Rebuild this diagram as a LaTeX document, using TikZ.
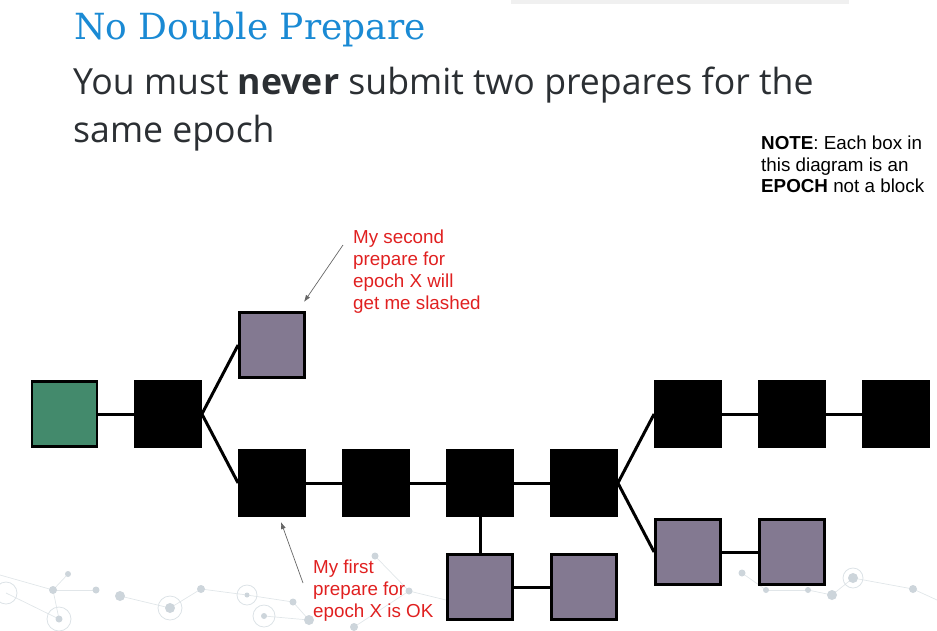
\documentclass[tikz,border=0pt]{standalone}
\usepackage{fontspec}
\setmainfont{Liberation Sans}
\newfontfamily\titlefont{DejaVu Serif}
\newfontfamily\leadfont[FakeStretch=0.99]{Open Sans}
\usetikzlibrary{
  arrows.meta,
  positioning,
  backgrounds
}
\definecolor{genesisgreen}{RGB}{67,138,108}
\definecolor{forkpurple}{RGB}{131,121,145}
\definecolor{titleblue}{RGB}{26,138,212}
\definecolor{leadgray}{RGB}{43,47,51}
\definecolor{warnred}{RGB}{224,32,32}
\definecolor{dotgray}{RGB}{205,213,219}
\tikzset{
  epochbox/.style={
    draw=black,
    fill=black,
    line width=2.8pt,
    minimum size=65pt,
    inner sep=0pt
  },
  rootbox/.style={epochbox,fill=genesisgreen},
  forkbox/.style={epochbox,fill=forkpurple},
  chainlink/.style={line width=3pt,draw=black},
  notearrow/.style={-{Latex[length=7pt,width=5pt]},line width=0.7pt,draw=black!60},
  warntext/.style={
    text=warnred,
    align=left,
    inner sep=0pt,
    anchor=north west,
    font=\fontsize{18.8}{22}\selectfont
  },
  netdot/.style={fill=dotgray},
  netring/.style={draw=dotgray!70,line width=0.8pt}
}

\begin{document}
\begin{tikzpicture}[x=1pt,y=-1pt]
  \useasboundingbox (0,0) rectangle (937,630);
  \fill[black!6] (511,0) rectangle (849,4);

  % headline
  \node[anchor=base west,inner sep=0pt,text=titleblue,font=\titlefont\fontsize{36}{40}\selectfont]
    (title) at (74,39) {No Double Prepare};
  \node[anchor=north west,inner sep=0pt,align=left,text=leadgray,font=\leadfont\fontsize{36}{48}\selectfont]
    (lead) at (73,66.6) {You must \textbf{never} submit two prepares for the\\same epoch};
  \node[anchor=north west,inner sep=0pt,align=left,font=\fontsize{18.8}{21.5}\selectfont]
    (epochnote) at (761,136) {\textbf{NOTE}: Each box in\\this diagram is an\\\textbf{EPOCH} not a block};

  % epochs
  \node[rootbox] (g0) at (64.5,414) {};
  \node[epochbox] (b1) at (168,414) {};
  \node[forkbox] (p1) at (272,345) {};
  \foreach \n/\x in {b2/272,b3/376,b4/480,b5/584}
    \node[epochbox] (\n) at (\x,483) {};
  \node[forkbox] (p2) at (480,587) {};
  \node[forkbox] (p3) at (584,587) {};
  \foreach \n/\x in {b6/688,b7/792,b8/896}
    \node[epochbox] (\n) at (\x,414) {};
  \node[forkbox] (p4) at (688,552) {};
  \node[forkbox] (p5) at (792,552) {};

  \begin{scope}[on background layer]
    % faint network in the footer
    \foreach \a/\b in {{(53,590)}/{(68,574)},{(53,590)}/{(96,590)},{(53,590)}/{(0,575)},{(59,619)}/{(53,590)},
                       {(120,596)}/{(170,608)},{(170,608)}/{(201,589)},{(201,589)}/{(247,595)},{(247,595)}/{(293,602)},
                       {(293,602)}/{(309,620)},{(264,616)}/{(309,620)},{(375,556)}/{(409,591)},{(409,591)}/{(354,627)},
                       {(409,591)}/{(446,600)},{(742,573)}/{(766,590)},{(766,590)}/{(808,590)},{(808,590)}/{(832,595)},
                       {(832,595)}/{(853,578)},{(853,578)}/{(913,589)},{(913,589)}/{(937,600)},{(6,593)}/{(59,619)}}
      \draw[dotgray!60,line width=0.7pt] \a -- \b;
    \foreach \p/\r in {{(68,574)}/3,{(53,590)}/4,{(96,590)}/3.5,{(120,596)}/5,{(170,608)}/5,{(201,589)}/4,
                       {(247,595)}/2.5,{(264,616)}/3,{(293,602)}/3.5,{(309,620)}/5,{(59,619)}/3.5,{(375,556)}/3.5,
                       {(409,591)}/3.5,{(354,627)}/4,{(742,573)}/3.5,{(766,590)}/3,{(808,590)}/3,{(832,595)}/5,
                       {(853,578)}/5,{(913,589)}/4}
      \fill[netdot] \p circle (\r);
    \foreach \p/\r in {{(6,593)}/11,{(170,608)}/12,{(247,595)}/10,{(264,616)}/11,{(59,619)}/12,{(853,578)}/10}
      \draw[netring] \p circle (\r);

    % links between epochs
    \draw[chainlink] (g0) -- (b1);
    \draw[chainlink] (b1.east) -- (p1.west);
    \draw[chainlink] (b1.east) -- (b2.west);
    \draw[chainlink] (b2) -- (b3);
    \draw[chainlink] (b3) -- (b4);
    \draw[chainlink] (b4) -- (b5);
    \draw[chainlink] (b4) -- (p2);
    \draw[chainlink] (p2) -- (p3);
    \draw[chainlink] (b5.east) -- (b6.west);
    \draw[chainlink] (b5.east) -- (p4.west);
    \draw[chainlink] (b6) -- (b7);
    \draw[chainlink] (b7) -- (b8);
    \draw[chainlink] (p4) -- (p5);
  \end{scope}

  % annotations
  \node[warntext] (slashnote) at (353,229.5) {My second\\prepare for\\epoch X will\\get me slashed};
  \node[warntext] (oknote) at (313,559.5) {My first\\prepare for\\epoch X is OK};
  \coordinate (slashtail) at (343,245);
  \coordinate (slashhead) at (304,302);
  \coordinate (oktail) at (303,583);
  \coordinate (okhead) at (281,522);
  \draw[notearrow] (slashtail) -- (slashhead);
  \draw[notearrow] (oktail) -- (okhead);
\end{tikzpicture}
\end{document}
